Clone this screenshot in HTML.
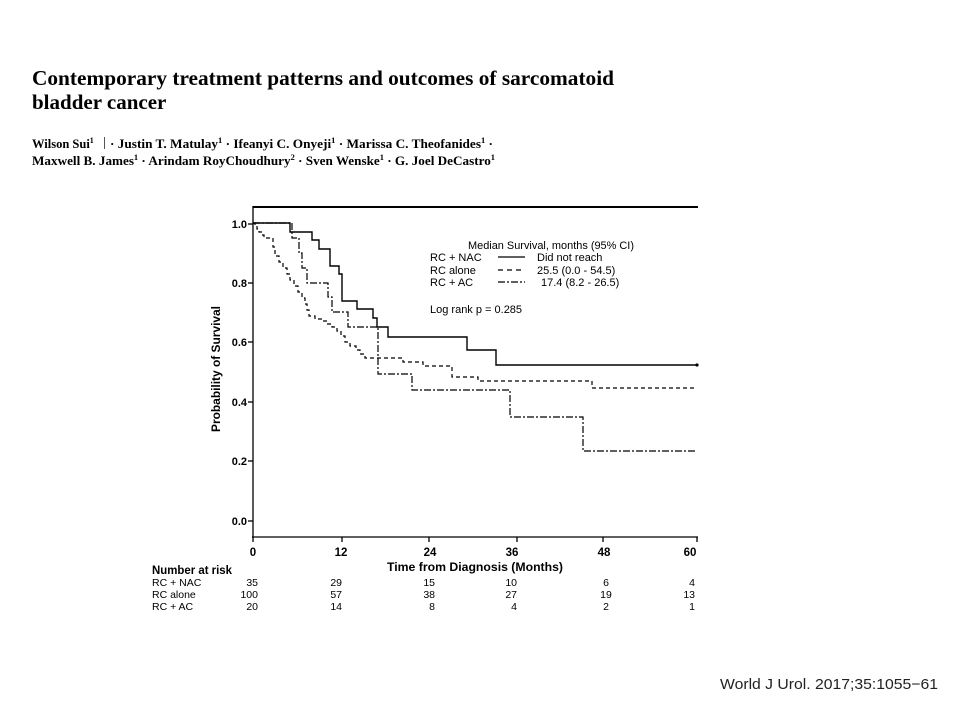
<!DOCTYPE html>
<html>
<head>
<meta charset="utf-8">
<style>
  html, body { margin: 0; padding: 0; background: #fff; }
  body { width: 960px; height: 720px; overflow: hidden; position: relative; }
  svg { position: absolute; left: 0; top: 0; }
  .serif { font-family: "Liberation Serif", "Times New Roman", serif; }
  .sans { font-family: "Liberation Sans", Arial, sans-serif; }
</style>
</head>
<body>
<svg width="960" height="720" viewBox="0 0 960 720" xmlns="http://www.w3.org/2000/svg">
  <rect width="960" height="720" fill="#fff"/>

  <!-- Title -->
  <text class="serif" x="32" y="85" font-size="21" font-weight="bold" fill="#000" textLength="582" lengthAdjust="spacingAndGlyphs">Contemporary treatment patterns and outcomes of sarcomatoid</text>
  <text class="serif" x="32" y="109" font-size="21" font-weight="bold" fill="#000">bladder cancer</text>

  <!-- Authors -->
  <text class="serif" x="32" y="148" font-size="12.5" font-weight="bold" fill="#000">Wilson Sui<tspan font-size="8" dy="-5">1</tspan></text>
  <rect x="104" y="137" width="1" height="12" fill="#555"/>
  <text class="serif" x="110" y="148" font-size="12.5" font-weight="bold" fill="#000" textLength="383" lengthAdjust="spacingAndGlyphs">· Justin T. Matulay<tspan font-size="8" dy="-5">1</tspan><tspan dy="5"> · Ifeanyi C. Onyeji</tspan><tspan font-size="8" dy="-5">1</tspan><tspan dy="5"> · Marissa C. Theofanides</tspan><tspan font-size="8" dy="-5">1</tspan><tspan dy="5"> ·</tspan></text>
  <text class="serif" x="32" y="165" font-size="12.5" font-weight="bold" fill="#000" textLength="463" lengthAdjust="spacingAndGlyphs">Maxwell B. James<tspan font-size="8" dy="-5">1</tspan><tspan dy="5"> · Arindam RoyChoudhury</tspan><tspan font-size="8" dy="-5">2</tspan><tspan dy="5"> · Sven Wenske</tspan><tspan font-size="8" dy="-5">1</tspan><tspan dy="5"> · G. Joel DeCastro</tspan><tspan font-size="8" dy="-5">1</tspan></text>

  <!-- Plot frame -->
  <line x1="253" y1="207" x2="698" y2="207" stroke="#000" stroke-width="2"/>
  <line x1="253" y1="206" x2="253" y2="538" stroke="#000" stroke-width="1.3"/>
  <line x1="252" y1="537" x2="698" y2="537" stroke="#000" stroke-width="1.3"/>

  <!-- Y ticks -->
  <g stroke="#000" stroke-width="1.3">
    <line x1="248" y1="224" x2="253" y2="224"/>
    <line x1="248" y1="283" x2="253" y2="283"/>
    <line x1="248" y1="342" x2="253" y2="342"/>
    <line x1="248" y1="402" x2="253" y2="402"/>
    <line x1="248" y1="461" x2="253" y2="461"/>
    <line x1="248" y1="521" x2="253" y2="521"/>
  </g>
  <g class="sans" font-size="11" font-weight="bold" fill="#000" text-anchor="end">
    <text x="247" y="228">1.0</text>
    <text x="247" y="287">0.8</text>
    <text x="247" y="346">0.6</text>
    <text x="247" y="406">0.4</text>
    <text x="247" y="465">0.2</text>
    <text x="247" y="525">0.0</text>
  </g>
  <text class="sans" font-size="12" font-weight="bold" fill="#000" text-anchor="middle" transform="translate(220,369) rotate(-90)" textLength="126" lengthAdjust="spacingAndGlyphs">Probability of Survival</text>

  <!-- X ticks -->
  <g stroke="#000" stroke-width="1.3">
    <line x1="253" y1="537" x2="253" y2="542"/>
    <line x1="342" y1="537" x2="342" y2="542"/>
    <line x1="429" y1="537" x2="429" y2="542"/>
    <line x1="517" y1="537" x2="517" y2="542"/>
    <line x1="603" y1="537" x2="603" y2="542"/>
    <line x1="697" y1="537" x2="697" y2="542"/>
  </g>
  <g class="sans" font-size="11.5" font-weight="bold" fill="#000" text-anchor="middle">
    <text x="253" y="556">0</text>
    <text x="341" y="556">12</text>
    <text x="430" y="556">24</text>
    <text x="512" y="556">36</text>
    <text x="604" y="556">48</text>
    <text x="690" y="556">60</text>
  </g>
  <text class="sans" x="387" y="571" font-size="12" font-weight="bold" fill="#000" textLength="176" lengthAdjust="spacingAndGlyphs">Time from Diagnosis (Months)</text>

  <!-- Number at risk -->
  <text class="sans" x="152" y="574" font-size="11.5" font-weight="bold" fill="#000" textLength="80" lengthAdjust="spacingAndGlyphs">Number at risk</text>
  <g class="sans" font-size="10.5" fill="#000">
    <text x="152" y="586">RC + NAC</text>
    <text x="152" y="598">RC alone</text>
    <text x="152" y="610">RC + AC</text>
  </g>
  <g class="sans" font-size="10.5" fill="#000" text-anchor="end">
    <text x="258" y="586">35</text><text x="258" y="598">100</text><text x="258" y="610">20</text>
    <text x="342" y="586">29</text><text x="342" y="598">57</text><text x="342" y="610">14</text>
    <text x="435" y="586">15</text><text x="435" y="598">38</text><text x="435" y="610">8</text>
    <text x="517" y="586">10</text><text x="517" y="598">27</text><text x="517" y="610">4</text>
    <text x="695" y="586">4</text><text x="695" y="598">13</text><text x="695" y="610">1</text>
  </g>
  <g class="sans" font-size="10.5" fill="#000" text-anchor="middle">
    <text x="606" y="586">6</text><text x="606" y="598">19</text><text x="606" y="610">2</text>
  </g>

  <!-- Curves -->
  <!-- RC alone (dashed) -->
  <path fill="none" stroke="#000" stroke-width="1.2" stroke-dasharray="4,3"
    d="M253,223 H255 V226 H257 V229 H259 V232 H262 V235 H264 V238 H273 V247 H275 V256 H279 V262 H283 V268 H287 V274 H290 V280 H294 V286 H298 V292 H302 V298 H305 V304 H307 V310 H309 V316 H315 V319 H322 V321 H327 V324 H332 V327 H337 V331 H341 V336 H345 V342 H350 V346 H356 V350 H360 V354 H365 V358 H403 V362 H423 V366 H452 V377 H478 V381 H592 V388 H697"/>
  <!-- RC + AC (dash-dot) -->
  <path fill="none" stroke="#000" stroke-width="1.2" stroke-dasharray="7,2,2,2"
    d="M253,223 H292 V238 H299 V253 H302 V268 H307 V283 H328 V297 H332 V312 H348 V327 H378 V374 H412 V390 H510 V417 H583 V451 H697"/>
  <!-- RC + NAC (solid) -->
  <path fill="none" stroke="#000" stroke-width="1.4"
    d="M253,223 H290 V232 H312 V240 H319 V249 H330 V266 H339 V274 H342 V301 H357 V309 H373 V318 H377 V327 H388 V337 H467 V350 H496 V365 H697"/>
  <circle cx="697" cy="365" r="1.6" fill="#000"/>

  <!-- Legend -->
  <g class="sans" font-size="11" fill="#000">
    <text x="468" y="249" textLength="166" lengthAdjust="spacingAndGlyphs">Median Survival, months (95% CI)</text>
    <text x="430" y="261">RC + NAC</text>
    <text x="430" y="274">RC alone</text>
    <text x="430" y="286">RC + AC</text>
    <text x="537" y="261">Did not reach</text>
    <text x="537" y="274">25.5 (0.0 - 54.5)</text>
    <text x="541" y="286">17.4 (8.2 - 26.5)</text>
    <text x="430" y="313">Log rank p = 0.285</text>
  </g>
  <line x1="498" y1="257" x2="525" y2="257" stroke="#000" stroke-width="1.2"/>
  <line x1="498" y1="270" x2="525" y2="270" stroke="#000" stroke-width="1.2" stroke-dasharray="5,4"/>
  <line x1="498" y1="282" x2="525" y2="282" stroke="#000" stroke-width="1.2" stroke-dasharray="7,2,2,2"/>

  <!-- Citation -->
  <text class="sans" x="720" y="689" font-size="15" fill="#222" textLength="218" lengthAdjust="spacingAndGlyphs">World J Urol.  2017;35:1055−61</text>
</svg>
</body>
</html>
